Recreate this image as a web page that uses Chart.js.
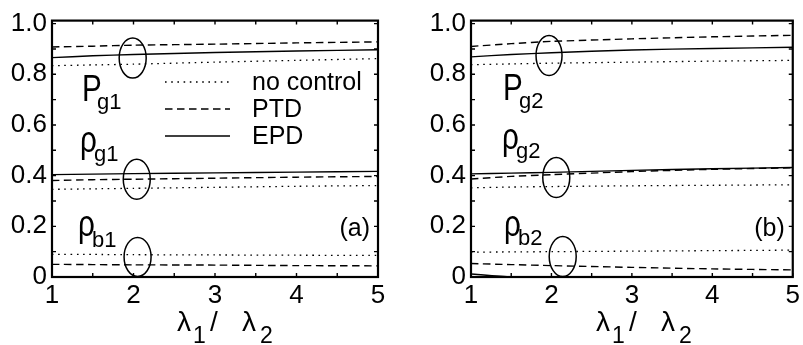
<!DOCTYPE html>
<html>
<head>
<meta charset="utf-8">
<script src="https://cdn.jsdelivr.net/npm/chart.js@4/dist/chart.umd.min.js"></script>
<style>
  html, body { margin: 0; padding: 0; background: #fff; }
  #wrap { position: relative; width: 803px; height: 345px; overflow: hidden; }
  canvas { position: absolute; top: 0; }
  #chartA { left: 0; }
  #chartB { left: 400px; }
</style>
</head>
<body>
<div id="wrap">
  <canvas id="chartA" width="400" height="345"></canvas>
  <canvas id="chartB" width="403" height="345"></canvas>
</div>
<script>
// ratio of arrival rates, lambda1 / lambda2
const lambdaRatio = [1, 1.5, 2, 3, 4, 5];

// panel (a): class-1 quantities
const Pg1_noControl   = [0.834, 0.837, 0.840, 0.848, 0.855, 0.862];
const Pg1_PTD         = [0.908, 0.911, 0.915, 0.919, 0.924, 0.928];
const Pg1_EPD         = [0.866, 0.873, 0.878, 0.886, 0.892, 0.897];
const rhoG1_noControl = [0.346, 0.348, 0.350, 0.354, 0.358, 0.361];
const rhoG1_PTD       = [0.381, 0.384, 0.386, 0.390, 0.394, 0.397];
const rhoG1_EPD       = [0.404, 0.406, 0.408, 0.411, 0.414, 0.417];
const rhoB1_noControl = [0.089, 0.089, 0.088, 0.087, 0.086, 0.085];
const rhoB1_PTD       = [0.050, 0.049, 0.048, 0.047, 0.045, 0.044];
const rhoB1_EPD       = [0.001, 0.001, 0.001, 0.001, 0.001, 0.001];

// panel (b): class-2 quantities
const Pg2_noControl   = [0.838, 0.841, 0.844, 0.848, 0.852, 0.855];
const Pg2_PTD         = [0.910, 0.921, 0.930, 0.940, 0.948, 0.954];
const Pg2_EPD         = [0.869, 0.878, 0.885, 0.896, 0.902, 0.907];
const rhoG2_noControl = [0.352, 0.355, 0.357, 0.360, 0.362, 0.364];
const rhoG2_PTD       = [0.387, 0.397, 0.404, 0.416, 0.425, 0.431];
const rhoG2_EPD       = [0.407, 0.410, 0.413, 0.421, 0.427, 0.432];
const rhoB2_noControl = [0.098, 0.099, 0.100, 0.102, 0.104, 0.106];
const rhoB2_PTD       = [0.053, 0.049, 0.045, 0.038, 0.032, 0.028];
const rhoB2_EPD       = [0.012, 0.000, 0.000, 0.000, 0.000, 0.000];

const xTickValues = [1, 2, 3, 4, 5];
const yTickValues = [0, 0.2, 0.4, 0.6, 0.8, 1.0];
const legendLabels = ['no control', 'PTD', 'EPD'];

const FONT = "'Liberation Sans', Arial, Helvetica, sans-serif";

// line look for each control policy
const policyStyle = {
  noControl: { borderDash: [1.6, 4.6], borderWidth: 1.3 },
  PTD:       { borderDash: [7.5, 4.5], borderWidth: 1.4 },
  EPD:       { borderDash: [],         borderWidth: 1.4 }
};

function series(values, policy) {
  return Object.assign({
    data: lambdaRatio.map((r, i) => ({ x: r, y: values[i] })),
    borderColor: '#000',
    backgroundColor: '#000',
    pointRadius: 0,
    fill: false,
    tension: 0.2
  }, policyStyle[policy]);
}

// frame, inward tick marks, rings, symbols, legend and axis title
const panelDecor = {
  id: 'panelDecor',
  afterDatasetsDraw(chart, args, opts) {
    const { ctx, chartArea: a, scales: { x, y } } = chart;
    ctx.save();
    ctx.strokeStyle = '#000';
    ctx.fillStyle = '#000';

    // inward ticks on all four sides
    ctx.lineWidth = 1.4;
    const tl = 4;
    ctx.beginPath();
    for (let k = 2; k <= 10; k++) {
      const px = x.getPixelForValue(k / 2);
      ctx.moveTo(px, a.bottom); ctx.lineTo(px, a.bottom - tl);
      ctx.moveTo(px, a.top);    ctx.lineTo(px, a.top + tl);
    }
    for (let k = 0; k <= 10; k++) {
      const py = y.getPixelForValue(k / 10);
      ctx.moveTo(a.left, py);  ctx.lineTo(a.left + tl, py);
      ctx.moveTo(a.right, py); ctx.lineTo(a.right - tl, py);
    }
    ctx.stroke();

    // plot frame
    ctx.lineWidth = 2.2;
    ctx.strokeRect(a.left, a.top, a.right - a.left, a.bottom - a.top);

    // rings marking each group of curves
    ctx.lineWidth = 1.5;
    opts.rings.forEach(r => {
      ctx.beginPath();
      ctx.ellipse(x.getPixelForValue(r.x), y.getPixelForValue(r.y), r.rx, r.ry, 0, 0, Math.PI * 2);
      ctx.stroke();
    });

    // quantity symbols (slightly narrow face) with subscripts
    ctx.textBaseline = 'alphabetic';
    ctx.textAlign = 'left';
    opts.symbols.forEach(s => {
      ctx.save();
      ctx.translate(a.left + s.dx, s.base);
      ctx.scale(0.8, 1);
      ctx.font = s.size + 'px ' + FONT;
      ctx.fillText(s.main, 0, 0);
      ctx.restore();
      ctx.font = s.subSize + 'px ' + FONT;
      ctx.fillText(s.sub, a.left + s.subDx, s.subBase);
    });

    // panel tag
    ctx.font = '25px ' + FONT;
    ctx.textAlign = 'right';
    ctx.textBaseline = 'middle';
    ctx.fillText(opts.tag, a.right - 8, 229);

    // legend
    if (opts.legend) {
      const styles = [policyStyle.noControl, policyStyle.PTD, policyStyle.EPD];
      const rows = [82, 109, 136];
      ctx.textAlign = 'left';
      ctx.font = '25px ' + FONT;
      legendLabels.forEach((label, i) => {
        ctx.beginPath();
        ctx.setLineDash(styles[i].borderDash);
        ctx.lineWidth = styles[i].borderWidth;
        ctx.moveTo(a.left + 113, rows[i]);
        ctx.lineTo(a.left + 178, rows[i]);
        ctx.stroke();
        ctx.setLineDash([]);
        ctx.fillText(label, a.left + 200, rows[i] + 1);
      });
    }
    ctx.restore();
  },
  afterDraw(chart) {
    // x-axis title: lambda_1 / lambda_2
    const { ctx, chartArea: a } = chart;
    const x0 = a.left + 125;
    ctx.save();
    ctx.fillStyle = '#000';
    ctx.textAlign = 'left';
    ctx.textBaseline = 'alphabetic';
    ctx.font = '28px ' + FONT;
    ctx.fillText('\u03BB', x0, 331);
    ctx.fillText('/', x0 + 33, 331);
    ctx.fillText('\u03BB', x0 + 65, 331);
    ctx.font = '23px ' + FONT;
    ctx.fillText('1', x0 + 16, 343);
    ctx.fillText('2', x0 + 83, 343);
    ctx.restore();
  }
};

function makePanel(canvasId, groups, yAxisWidth, rightPad, decor) {
  const datasets = [];
  groups.forEach(g => {
    datasets.push(series(g[0], 'noControl'));
    datasets.push(series(g[1], 'PTD'));
    datasets.push(series(g[2], 'EPD'));
  });
  return new Chart(document.getElementById(canvasId), {
    type: 'line',
    data: { datasets },
    plugins: [panelDecor],
    options: {
      responsive: false,
      animation: false,
      events: [],
      layout: { autoPadding: false, padding: { left: 0, right: rightPad, top: 17, bottom: 0 } },
      plugins: { legend: { display: false }, tooltip: { enabled: false }, panelDecor: decor },
      scales: {
        x: {
          type: 'linear', min: 1, max: 5,
          grid: { display: false, drawTicks: false },
          border: { display: false },
          afterBuildTicks: s => { s.ticks = xTickValues.map(v => ({ value: v })); },
          afterFit: s => { s.height = 68; },
          ticks: { color: '#000', padding: 3, font: { family: FONT, size: 26 }, maxRotation: 0,
                   callback: v => String(v) }
        },
        y: {
          type: 'linear', min: 0, max: 1.012,
          grid: { display: false, drawTicks: false },
          border: { display: false },
          afterBuildTicks: s => { s.ticks = yTickValues.map(v => ({ value: v })); },
          afterFit: s => { s.width = yAxisWidth; },
          ticks: { color: '#000', padding: 5, font: { family: FONT, size: 26 },
                   callback: v => (v === 0 ? '0' : v.toFixed(1)) }
        }
      }
    }
  });
}

makePanel('chartA',
  [[Pg1_noControl, Pg1_PTD, Pg1_EPD],
   [rhoG1_noControl, rhoG1_PTD, rhoG1_EPD],
   [rhoB1_noControl, rhoB1_PTD, rhoB1_EPD]],
  52, 22,
  {
    tag: '(a)',
    legend: true,
    rings: [
      { x: 1.99, y: 0.864, rx: 13.5, ry: 20 },
      { x: 2.04, y: 0.386, rx: 13.5, ry: 20 },
      { x: 2.05, y: 0.079, rx: 13.5, ry: 19.5 }
    ],
    symbols: [
      { main: 'P',      dx: 30, base: 101, size: 37, sub: 'g1', subDx: 45, subBase: 109, subSize: 22 },
      { main: '\u03C1', dx: 28, base: 152, size: 37, sub: 'g1', subDx: 42, subBase: 161, subSize: 22 },
      { main: '\u03C1', dx: 26, base: 236, size: 37, sub: 'b1', subDx: 40, subBase: 247, subSize: 22 }
    ]
  });

makePanel('chartB',
  [[Pg2_noControl, Pg2_PTD, Pg2_EPD],
   [rhoG2_noControl, rhoG2_PTD, rhoG2_EPD],
   [rhoB2_noControl, rhoB2_PTD, rhoB2_EPD]],
  71, 6,
  {
    tag: '(b)',
    legend: false,
    rings: [
      { x: 1.97, y: 0.874, rx: 13, ry: 20 },
      { x: 2.06, y: 0.393, rx: 13.5, ry: 20 },
      { x: 2.14, y: 0.081, rx: 13.5, ry: 20 }
    ],
    symbols: [
      { main: 'P',      dx: 32, base: 100, size: 37, sub: 'g2', subDx: 48, subBase: 108, subSize: 22 },
      { main: '\u03C1', dx: 31, base: 149, size: 37, sub: 'g2', subDx: 45, subBase: 158, subSize: 22 },
      { main: '\u03C1', dx: 33, base: 236, size: 37, sub: 'b2', subDx: 47, subBase: 245, subSize: 22 }
    ]
  });
</script>
</body>
</html>
